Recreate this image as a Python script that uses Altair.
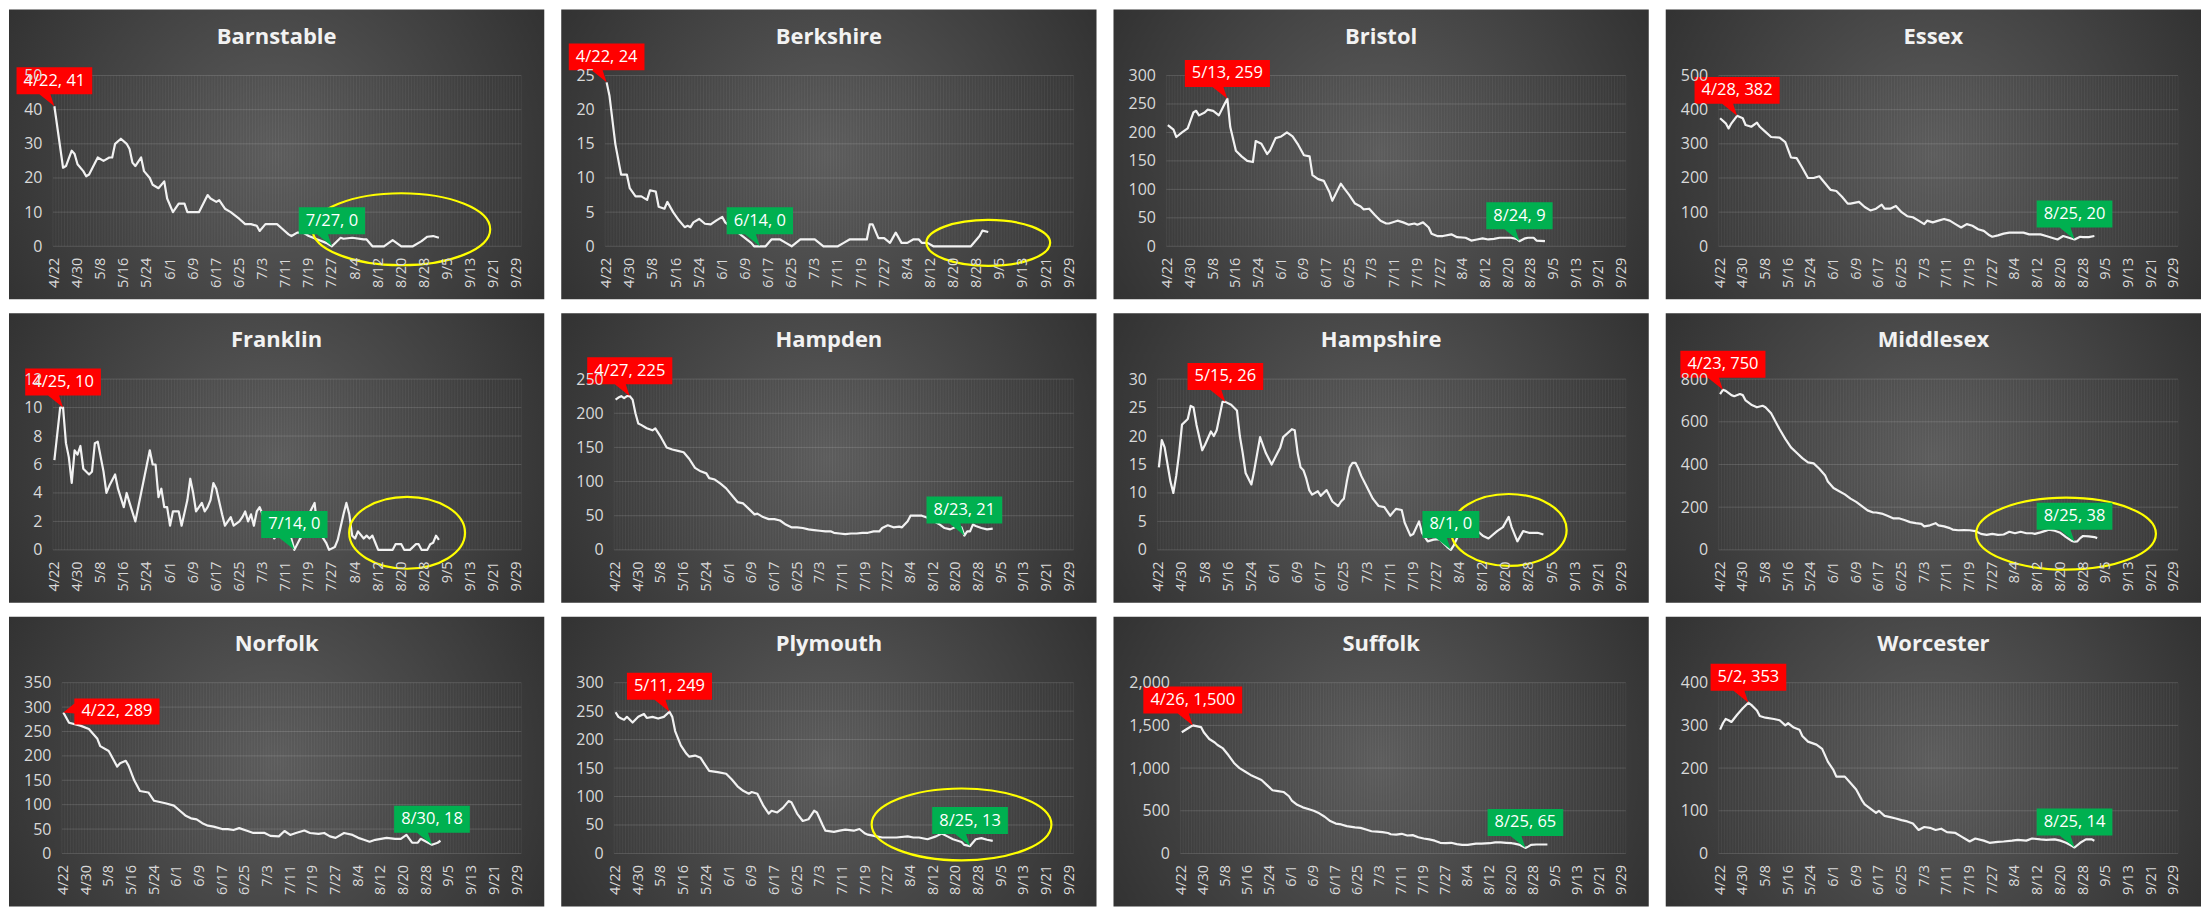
import datetime as dt
import altair as alt
import pandas as pd

YEAR = 2020
START = dt.date(YEAR, 4, 22)

counties = ["Barnstable", "Berkshire", "Bristol", "Essex",
            "Franklin", "Hampden", "Hampshire", "Middlesex",
            "Norfolk", "Plymouth", "Suffolk", "Worcester"]

x_tick_labels = ["4/22", "4/30", "5/8", "5/16", "5/24", "6/1", "6/9", "6/17", "6/25", "7/3",
                 "7/11", "7/19", "7/27", "8/4", "8/12", "8/20", "8/28", "9/5", "9/13", "9/21", "9/29"]

y_ticks = {
    "Barnstable": [0, 10, 20, 30, 40, 50],
    "Berkshire": [0, 5, 10, 15, 20, 25],
    "Bristol": [0, 50, 100, 150, 200, 250, 300],
    "Essex": [0, 100, 200, 300, 400, 500],
    "Franklin": [0, 2, 4, 6, 8, 10, 12],
    "Hampden": [0, 50, 100, 150, 200, 250],
    "Hampshire": [0, 5, 10, 15, 20, 25, 30],
    "Middlesex": [0, 200, 400, 600, 800],
    "Norfolk": [0, 50, 100, 150, 200, 250, 300, 350],
    "Plymouth": [0, 50, 100, 150, 200, 250, 300],
    "Suffolk": [0, 500, 1000, 1500, 2000],
    "Worcester": [0, 100, 200, 300, 400],
}

# ---- series: days after 4/22 and values ----
barnstable_days = [0, 3, 4, 6, 7, 8, 10, 11, 12, 15, 17, 19, 20, 21, 23, 25, 26, 27, 28, 30, 31, 33, 34, 36, 38, 39,
                   41, 43, 45, 46, 48, 50, 53, 54, 56, 57, 59, 61, 64, 66, 68, 70, 71, 73, 77, 79, 81, 82, 84, 86, 88,
                   91, 94, 96, 99, 100, 103, 107, 108, 110, 114, 117, 120, 124, 127, 129, 131, 133]
barnstable_vals = [41, 23, 23.5, 28, 27, 24, 22, 20.5, 21, 26, 25, 26, 26, 30, 31.5, 30, 28.5, 24.5, 23.5, 26, 22, 20,
                   18, 17, 19, 14, 10, 12.5, 12.5, 10, 10, 10, 15, 14, 13, 13.5, 11, 10, 8, 6.5, 6.5, 6, 4.5, 6.5, 6.5,
                   5, 3.5, 3, 4, 4, 3, 2, 1, 0, 2.5, 2.2, 2.5, 2, 2, 0, 0, 1.8, 0, 0, 1.5, 2.8, 3, 2.5]

berkshire_days = [0, 1, 3, 5, 7, 8, 10, 12, 14, 15, 17, 18, 20, 21, 23, 25, 27, 28, 29, 30, 32, 34, 36, 38, 40, 41, 44,
                  47, 50, 51, 53, 55, 57, 60, 62, 64, 67, 70, 72, 75, 80, 82, 84, 88, 90, 91, 92, 94, 96, 98, 100, 102,
                  104, 106, 108, 109, 111, 113, 126, 129, 130, 132]
berkshire_vals = [24, 22, 15, 10.5, 10.5, 8.5, 7.3, 7.3, 6.8, 8.2, 8, 5.8, 5.5, 6.5, 5, 3.8, 2.8, 3, 2.8, 3.5, 4, 3.3,
                  3.2, 3.8, 4.3, 3.5, 2.5, 1.5, 0.5, 0, 0, 0, 1, 1, 0.5, 0, 1, 1, 1, 0, 0, 0.5, 1, 1, 1, 3.2, 3.2, 1.2,
                  1.2, 0.5, 2, 0.5, 0.5, 1, 1, 0.5, 0.5, 0, 0, 1.5, 2.3, 2.1]

bristol_days = [0, 2, 3, 5, 7, 9, 10, 11, 13, 14, 16, 18, 20, 21, 22, 24, 26, 28, 30, 31, 33, 35, 36, 38, 40, 42, 44,
                46, 48, 50, 51, 53, 55, 57, 58, 60, 61, 62, 64, 66, 68, 69, 71, 73, 75, 77, 78, 81, 83, 85, 87, 88, 90,
                92, 93, 95, 97, 100, 102, 105, 107, 109, 111, 113, 115, 117, 119, 121, 123, 124, 126, 127, 129, 130, 133]
bristol_vals = [213, 205, 192, 200, 207, 235, 238, 230, 235, 240, 238, 230, 250, 259, 210, 168, 158, 150, 148, 185, 180,
                162, 168, 190, 193, 200, 193, 178, 160, 158, 125, 118, 115, 95, 80, 100, 110, 103, 90, 75, 70, 65, 66,
                55, 45, 40, 40, 45, 42, 38, 40, 38, 42, 33, 22, 18, 18, 21, 16, 15, 10, 12, 14, 12, 13, 15, 15, 15, 13,
                9, 14, 15, 15, 10, 9]

essex_days = [0, 2, 3, 4, 6, 8, 9, 11, 13, 14, 16, 18, 21, 23, 25, 27, 29, 31, 33, 35, 36, 39, 41, 43, 45, 46, 49, 51,
              53, 55, 57, 58, 60, 62, 64, 66, 68, 70, 72, 73, 75, 77, 79, 81, 83, 85, 87, 89, 91, 93, 95, 96, 98, 100,
              102, 104, 107, 109, 110, 113, 115, 117, 119, 121, 123, 125, 127, 128, 130, 132]
essex_vals = [375, 360, 345, 360, 382, 375, 355, 350, 362, 350, 335, 320, 318, 305, 260, 258, 230, 200, 200, 205, 195,
              165, 162, 145, 125, 125, 130, 115, 105, 110, 122, 110, 110, 118, 100, 88, 85, 75, 65, 75, 70, 75, 80, 75,
              65, 55, 65, 60, 50, 45, 32, 28, 32, 37, 40, 40, 40, 35, 35, 35, 30, 25, 20, 30, 25, 20, 28, 27, 27, 30]

franklin_days = [0, 2, 3, 4, 5, 6, 7, 8, 9, 10, 12, 13, 14, 15, 17, 18, 19, 21, 22, 24, 25, 26, 28, 30, 32, 33, 34, 35,
                 36, 37, 38, 39, 40, 41, 43, 44, 46, 47, 48, 49, 51, 52, 53, 54, 55, 56, 58, 59, 61, 62, 64, 65, 66,
                 67, 68, 69, 70, 71, 73, 75, 76, 78, 80, 81, 83, 85, 86, 87, 88, 90, 91, 93, 94, 95, 97, 98, 100, 101,
                 102, 103, 104, 105, 107, 108, 109, 110, 111, 112, 117, 118, 120, 121, 123, 125, 126, 127, 129, 130,
                 131, 132, 133]
franklin_vals = [6.3, 10, 10, 7.5, 6.5, 4.7, 7, 6.7, 7.3, 5.7, 5.3, 5.5, 7.5, 7.6, 5.5, 4, 4.5, 5.3, 4.3, 3, 4, 3.3, 2,
                 4, 6, 7, 6, 6, 3.7, 4.3, 3, 3, 1.7, 2.7, 2.7, 1.7, 3.5, 5, 4, 2.7, 3.3, 2.7, 3, 3.5, 4.7, 4.3, 2.5,
                 1.7, 2.3, 1.7, 2, 2.3, 2.7, 2, 2.5, 1.7, 2.7, 3, 2, 2.5, 0.8, 1.2, 1, 1.5, 0, 0.8, 1, 1.2, 2.5, 3.3,
                 1.5, 0.8, 0.5, 0, 0.2, 0.7, 2.5, 3.3, 2.5, 1, 0.8, 1.3, 0.8, 1, 0.8, 1, 0.5, 0, 0, 0.4, 0.4, 0, 0,
                 0.4, 0.4, 0, 0, 0.4, 0.5, 1, 0.7]

hampden_days = [0, 1, 2, 3, 4, 5, 6, 7, 8, 9, 11, 13, 14, 16, 18, 20, 22, 24, 26, 28, 30, 32, 33, 35, 37, 39, 41, 43,
                45, 47, 49, 50, 52, 54, 56, 58, 60, 62, 64, 66, 68, 70, 72, 74, 76, 77, 79, 81, 83, 85, 87, 89, 91, 93,
                94, 96, 98, 100, 101, 103, 104, 106, 108, 110, 111, 114, 116, 118, 120, 122, 123, 124, 125, 126, 127,
                129, 131, 133]
hampden_vals = [220, 223, 225, 222, 225, 225, 220, 200, 185, 183, 178, 175, 178, 165, 150, 147, 145, 143, 133, 120, 115,
                112, 105, 103, 97, 90, 80, 70, 68, 60, 52, 53, 48, 45, 45, 43, 37, 33, 33, 32, 30, 29, 28, 27, 27, 25,
                24, 23, 24, 24, 25, 25, 27, 27, 32, 36, 33, 34, 33, 42, 50, 50, 50, 47, 45, 38, 32, 30, 34, 33, 21, 27,
                27, 37, 35, 32, 30, 31]

hampshire_days = [0, 1, 2, 3, 4, 5, 6, 7, 8, 10, 11, 12, 13, 15, 16, 18, 19, 20, 22, 23, 25, 27, 28, 29, 30, 32, 33,
                  35, 37, 39, 40, 42, 43, 46, 47, 48, 49, 50, 51, 52, 53, 55, 56, 58, 60, 62, 63, 64, 65, 66, 67, 68,
                  69, 70, 72, 74, 76, 78, 80, 82, 84, 85, 87, 88, 90, 91, 93, 95, 97, 100, 101, 102, 104, 107, 110,
                  112, 114, 117, 119, 121, 122, 124, 126, 128, 131, 133]
hampshire_vals = [14.5, 19.3, 18, 15, 12, 10, 13, 17, 22, 23, 25.3, 25, 22, 17.5, 18.5, 20.8, 20, 21, 26, 26, 25.5,
                  24.5, 20, 17, 13.5, 11.5, 14, 19.8, 17, 15, 16, 18, 19.8, 21.2, 21, 17, 14.5, 14, 12.5, 10.5, 9.7,
                  10.3, 9.5, 10.5, 8.5, 7.7, 8.5, 9, 12, 14.5, 15.3, 15.3, 14.3, 13, 11, 9, 7.7, 7.5, 6, 7.2, 7, 4.8,
                  2.5, 2.8, 5, 3, 1.5, 1.8, 1.9, 0.4, 0, 0.8, 3, 3.2, 3.4, 2.5, 2, 3.3, 4, 5.8, 4, 1.5, 3.3, 3, 3, 2.7]

middlesex_days = [0, 1, 2, 4, 5, 7, 8, 9, 11, 13, 15, 16, 18, 20, 21, 23, 25, 27, 29, 31, 33, 35, 37, 38, 40, 42, 44,
                  46, 48, 50, 52, 54, 55, 57, 59, 61, 63, 65, 67, 69, 71, 72, 74, 76, 77, 79, 81, 82, 84, 86, 88, 90,
                  92, 94, 96, 98, 100, 102, 104, 106, 108, 110, 111, 113, 115, 116, 118, 120, 122, 124, 125, 126, 127,
                  128, 130, 132, 133]
middlesex_vals = [730, 750, 745, 725, 720, 730, 725, 700, 680, 668, 675, 668, 640, 590, 565, 520, 480, 455, 430, 410,
                  405, 380, 350, 320, 290, 275, 260, 240, 225, 205, 185, 175, 175, 170, 160, 148, 148, 140, 130, 125,
                  122, 110, 115, 125, 115, 110, 102, 95, 92, 93, 92, 88, 75, 70, 75, 70, 72, 85, 78, 85, 78, 78, 75,
                  82, 90, 95, 90, 80, 60, 42, 38, 40, 55, 65, 63, 60, 55]

norfolk_days = [0, 2, 6, 9, 12, 13, 16, 19, 20, 22, 23, 25, 27, 30, 32, 36, 39, 41, 43, 45, 47, 49, 51, 53, 56, 58, 60,
                62, 65, 67, 71, 73, 76, 78, 80, 82, 85, 87, 90, 92, 94, 96, 99, 102, 104, 106, 108, 110, 112, 114, 117,
                119, 121, 123, 125, 126, 128, 130, 132, 133]
norfolk_vals = [289, 268, 262, 255, 235, 220, 210, 178, 185, 190, 180, 150, 128, 125, 108, 103, 98, 88, 78, 72, 70, 62,
                57, 55, 50, 50, 48, 52, 46, 42, 42, 36, 35, 46, 38, 42, 47, 42, 40, 42, 35, 32, 42, 38, 32, 28, 24, 28,
                30, 32, 30, 30, 38, 22, 22, 30, 24, 18, 22, 26]

plymouth_days = [0, 1, 2, 3, 4, 6, 8, 10, 11, 13, 15, 17, 19, 20, 21, 23, 25, 26, 28, 30, 31, 33, 36, 39, 41, 43, 45,
                 47, 48, 50, 52, 54, 55, 57, 59, 61, 62, 64, 66, 68, 70, 71, 73, 74, 77, 79, 81, 84, 86, 88, 89, 92,
                 94, 97, 99, 103, 105, 107, 110, 113, 115, 117, 119, 122, 123, 125, 127, 129, 131, 133]
plymouth_vals = [248, 240, 237, 235, 240, 230, 240, 245, 238, 240, 237, 240, 249, 240, 215, 190, 175, 170, 172, 168,
                 160, 145, 143, 140, 130, 118, 110, 105, 108, 105, 85, 70, 75, 72, 80, 92, 90, 70, 57, 60, 75, 72, 50,
                 40, 38, 40, 42, 40, 43, 35, 33, 30, 28, 28, 28, 30, 28, 28, 25, 30, 35, 30, 25, 20, 15, 13, 25, 27,
                 24, 22]

suffolk_days = [0, 2, 4, 7, 8, 10, 12, 13, 15, 17, 19, 21, 23, 25, 27, 29, 31, 33, 35, 37, 39, 40, 42, 44, 46, 48, 50,
                52, 54, 56, 58, 60, 63, 65, 67, 69, 71, 73, 75, 76, 78, 80, 82, 84, 86, 88, 90, 92, 94, 96, 98, 100,
                102, 104, 107, 109, 112, 114, 116, 118, 120, 121, 123, 125, 126, 127, 129, 133]
suffolk_vals = [1420, 1460, 1500, 1480, 1420, 1340, 1300, 1270, 1230, 1150, 1060, 1000, 960, 920, 890, 860, 800, 740,
                730, 720, 670, 620, 570, 540, 520, 500, 470, 430, 380, 350, 340, 320, 305, 300, 280, 260, 255, 250,
                240, 225, 220, 230, 210, 215, 190, 175, 165, 150, 125, 120, 125, 110, 100, 100, 115, 115, 120, 130,
                130, 125, 120, 115, 100, 65, 80, 100, 105, 105]

worcester_days = [0, 1, 2, 3, 4, 6, 8, 10, 11, 13, 14, 16, 19, 21, 23, 24, 26, 28, 29, 31, 34, 36, 38, 40, 41, 44, 46,
                  48, 50, 51, 53, 55, 56, 58, 60, 62, 64, 66, 68, 70, 72, 74, 76, 78, 80, 83, 85, 87, 88, 90, 93, 95,
                  98, 100, 103, 105, 108, 110, 113, 115, 118, 120, 122, 124, 125, 127, 129, 131, 132]
worcester_vals = [290, 305, 315, 312, 308, 325, 340, 353, 348, 335, 322, 318, 315, 312, 300, 305, 295, 290, 275, 262,
                  255, 245, 215, 195, 180, 180, 165, 150, 125, 115, 105, 95, 100, 88, 85, 82, 78, 75, 70, 55, 62, 60,
                  55, 58, 50, 48, 40, 32, 28, 35, 30, 25, 27, 28, 30, 32, 30, 35, 33, 32, 33, 30, 25, 18, 14, 25, 33,
                  33, 30]

series = {
    "Barnstable": (barnstable_days, barnstable_vals),
    "Berkshire": (berkshire_days, berkshire_vals),
    "Bristol": (bristol_days, bristol_vals),
    "Essex": (essex_days, essex_vals),
    "Franklin": (franklin_days, franklin_vals),
    "Hampden": (hampden_days, hampden_vals),
    "Hampshire": (hampshire_days, hampshire_vals),
    "Middlesex": (middlesex_days, middlesex_vals),
    "Norfolk": (norfolk_days, norfolk_vals),
    "Plymouth": (plymouth_days, plymouth_vals),
    "Suffolk": (suffolk_days, suffolk_vals),
    "Worcester": (worcester_days, worcester_vals),
}

# ---- callouts (peak in red, low in green) ----
peak_dates = ["4/22", "4/22", "5/13", "4/28", "4/25", "4/27", "5/15", "4/23", "4/22", "5/11", "4/26", "5/2"]
peak_values = [41, 24, 259, 382, 10, 225, 26, 750, 289, 249, 1500, 353]
low_dates = ["7/27", "6/14", "8/24", "8/25", "7/14", "8/23", "8/1", "8/25", "8/30", "8/25", "8/25", "8/25"]
low_values = [0, 0, 9, 20, 0, 21, 0, 38, 18, 13, 65, 14]

# ---- yellow ellipses (centre in data terms) ----
ellipse_counties = ["Barnstable", "Berkshire", "Franklin", "Hampshire", "Middlesex", "Plymouth"]
ellipse_dates = ["8/20", "9/1", "8/22", "8/21", "8/22", "8/22"]
ellipse_values = [5, 0.5, 1.2, 3.5, 76, 51]

# ---- styles ----
W, H = 536, 290
PR, PT, PB = 513, 66, 237
FONT = "Open Sans"
YLAB_SIZE, XLAB_SIZE = 16, 14.5
RED, GREEN, YELLOW = "#ff0000", "#00b050", "#ffff00"
LABEL_COLOR = "#d9d9d9"
ELLIPSE_R = {"Barnstable": (89, 36), "Berkshire": (62, 23), "Franklin": (58, 36),
             "Hampshire": (58, 36), "Middlesex": (90, 36), "Plymouth": (90, 36)}
CALLOUT_SIDE = {"Norfolk": "right"}
GRADIENT = {"gradient": "radial", "x1": 0.5, "y1": 0.5, "r1": 0, "x2": 0.5, "y2": 0.5, "r2": 0.72,
            "stops": [{"offset": 0, "color": "#5c5c5c"}, {"offset": 1, "color": "#272727"}]}


def md_iso(md):
    m, d = md.split("/")
    return f"{YEAR}-{int(m):02d}-{int(d):02d}"


def md_dt(md):
    m, d = md.split("/")
    return alt.DateTime(year=YEAR, month=int(m), date=int(d), utc=True)


def day_iso(n):
    return (START + dt.timedelta(days=n)).isoformat()


def text_width(s, size):
    w = 0.0
    for ch in s:
        if ch.isdigit():
            w += 0.572
        elif ch == "/":
            w += 0.371
        elif ch in ",.":
            w += 0.258
        elif ch == " ":
            w += 0.26
        else:
            w += 0.6
    return w * size


def callout_shape(w, side):
    if side == "right":
        L, R, T, B = 11, 11 + w, -14, 12
        path = f"M{L},{T}H{R:.1f}V{B}H{L}V1L0,0L{L},-9Z"
        return path, (L + R) / 2, (T + B) / 2
    L, R, T, B = -w / 2, w / 2, -39, -12
    path = f"M{L:.1f},{T}H{R:.1f}V{B}H-4L0,0L-15,{B}H{L:.1f}Z"
    return path, 0, (T + B) / 2


def ellipse_shape(rx, ry):
    k = 0.5523
    return (f"M{rx},0C{rx},{k*ry:.1f} {k*rx:.1f},{ry} 0,{ry}"
            f"C{-k*rx:.1f},{ry} {-rx},{k*ry:.1f} {-rx},0"
            f"C{-rx},{-k*ry:.1f} {-k*rx:.1f},{-ry} 0,{-ry}"
            f"C{k*rx:.1f},{-ry} {rx},{-k*ry:.1f} {rx},0Z")


grid_start = dt.datetime(YEAR, 4, 21, 12)
grid_days = pd.DataFrame({"date": [(grid_start + dt.timedelta(days=i)).strftime("%Y-%m-%dT%H:%M:%SZ")
                                   for i in range(163)]})


def panel(idx, name):
    days, vals = series[name]
    df = pd.DataFrame({"date": [day_iso(d) for d in days], "value": vals})
    ticks = y_ticks[name]
    lw = max(text_width(f"{t:,}", YLAB_SIZE) for t in ticks)
    PL = round(26 + lw)

    xs = alt.Scale(type="utc",
                   domain=[alt.DateTime(year=YEAR, month=4, date=21, hours=12, utc=True),
                           alt.DateTime(year=YEAR, month=9, date=30, hours=12, utc=True)],
                   range=[PL, PR])
    ys = alt.Scale(domain=[0, ticks[-1]], range=[PB, PT], nice=False, zero=False)
    xaxis = alt.Axis(values=[md_dt(t) for t in x_tick_labels], format="%-m/%-d", labelAngle=270,
                     labelColor=LABEL_COLOR, labelFont=FONT, labelFontSize=XLAB_SIZE, labelPadding=11,
                     domain=False, ticks=False, tickSize=0, grid=False, offset=PB - H,
                     labelOverlap=False, labelFlush=False, zindex=1, title=None)
    yaxis = alt.Axis(values=ticks, format=",d", labelColor=LABEL_COLOR, labelFont=FONT, labelFontSize=YLAB_SIZE,
                     labelPadding=11, domain=False, ticks=False, tickSize=0, grid=False, offset=-PL,
                     labelOverlap=False, labelFlush=False, zindex=1, title=None)

    def X(f):
        return alt.X(f"{f}:T", scale=xs, axis=xaxis, title=None)

    def Y(f):
        return alt.Y(f"{f}:Q", scale=ys, axis=yaxis, title=None)

    one = alt.Data(values=[{"t": name}])
    layers = []
    layers.append(alt.Chart(one).mark_rect(fill=GRADIENT).encode(
        x=alt.value(0), x2=alt.value(W), y=alt.value(0), y2=alt.value(H)))
    layers.append(alt.Chart(grid_days).mark_rule(color="#ffffff", opacity=0.06, strokeWidth=1).encode(
        x=X("date"), y=alt.value(PT), y2=alt.value(PB)))
    layers.append(alt.Chart(pd.DataFrame({"v": ticks})).mark_rule(color="#ffffff", opacity=0.14,
                                                                  strokeWidth=1).encode(
        y=Y("v"), x=alt.value(PL), x2=alt.value(PR)))
    layers.append(alt.Chart(df).mark_line(color="#f2f2f2", strokeWidth=2.2, strokeJoin="round").encode(
        x=X("date"), y=Y("value")))

    if name in ellipse_counties:
        j = ellipse_counties.index(name)
        rx, ry = ELLIPSE_R[name]
        edf = pd.DataFrame({"date": [md_iso(ellipse_dates[j])], "value": [ellipse_values[j]]})
        layers.append(alt.Chart(edf).mark_point(shape=ellipse_shape(rx, ry), size=4, filled=False,
                                                color=YELLOW, strokeWidth=2.2, opacity=1).encode(
            x=X("date"), y=Y("value")))

    for md, v, color, side in [(peak_dates[idx], peak_values[idx], RED, CALLOUT_SIDE.get(name, "above")),
                               (low_dates[idx], low_values[idx], GREEN, "above")]:
        label = f"{md}, {v:,}"
        w = text_width(label, 16.5) + 14
        path, cx, cy = callout_shape(w, side)
        cdf = pd.DataFrame({"date": [md_iso(md)], "value": [v], "label": [label]})
        layers.append(alt.Chart(cdf).mark_point(shape=path, size=4, filled=True, color=color,
                                                opacity=1, strokeWidth=0).encode(
            x=X("date"), y=Y("value")))
        layers.append(alt.Chart(cdf).mark_text(font=FONT, fontSize=16.5, color="#ffffff", align="center",
                                               baseline="middle", dx=cx, dy=cy).encode(
            x=X("date"), y=Y("value"), text="label:N"))

    layers.append(alt.Chart(one).mark_text(font=FONT, fontSize=22, fontWeight="bold", color="#f2f2f2",
                                           align="center", baseline="alphabetic").encode(
        x=alt.value(W / 2), y=alt.value(34), text="t:N"))

    return alt.layer(*layers).properties(width=W, height=H)


panels = [panel(i, n) for i, n in enumerate(counties)]
rows = [alt.hconcat(*panels[r * 4:(r + 1) * 4], spacing=15) for r in range(3)]
chart = alt.vconcat(*rows, spacing=12).properties(padding=0, background="#ffffff").configure_view(
    stroke="transparent")

chart.save("out.html", embed_options={"renderer": "svg", "actions": False})
